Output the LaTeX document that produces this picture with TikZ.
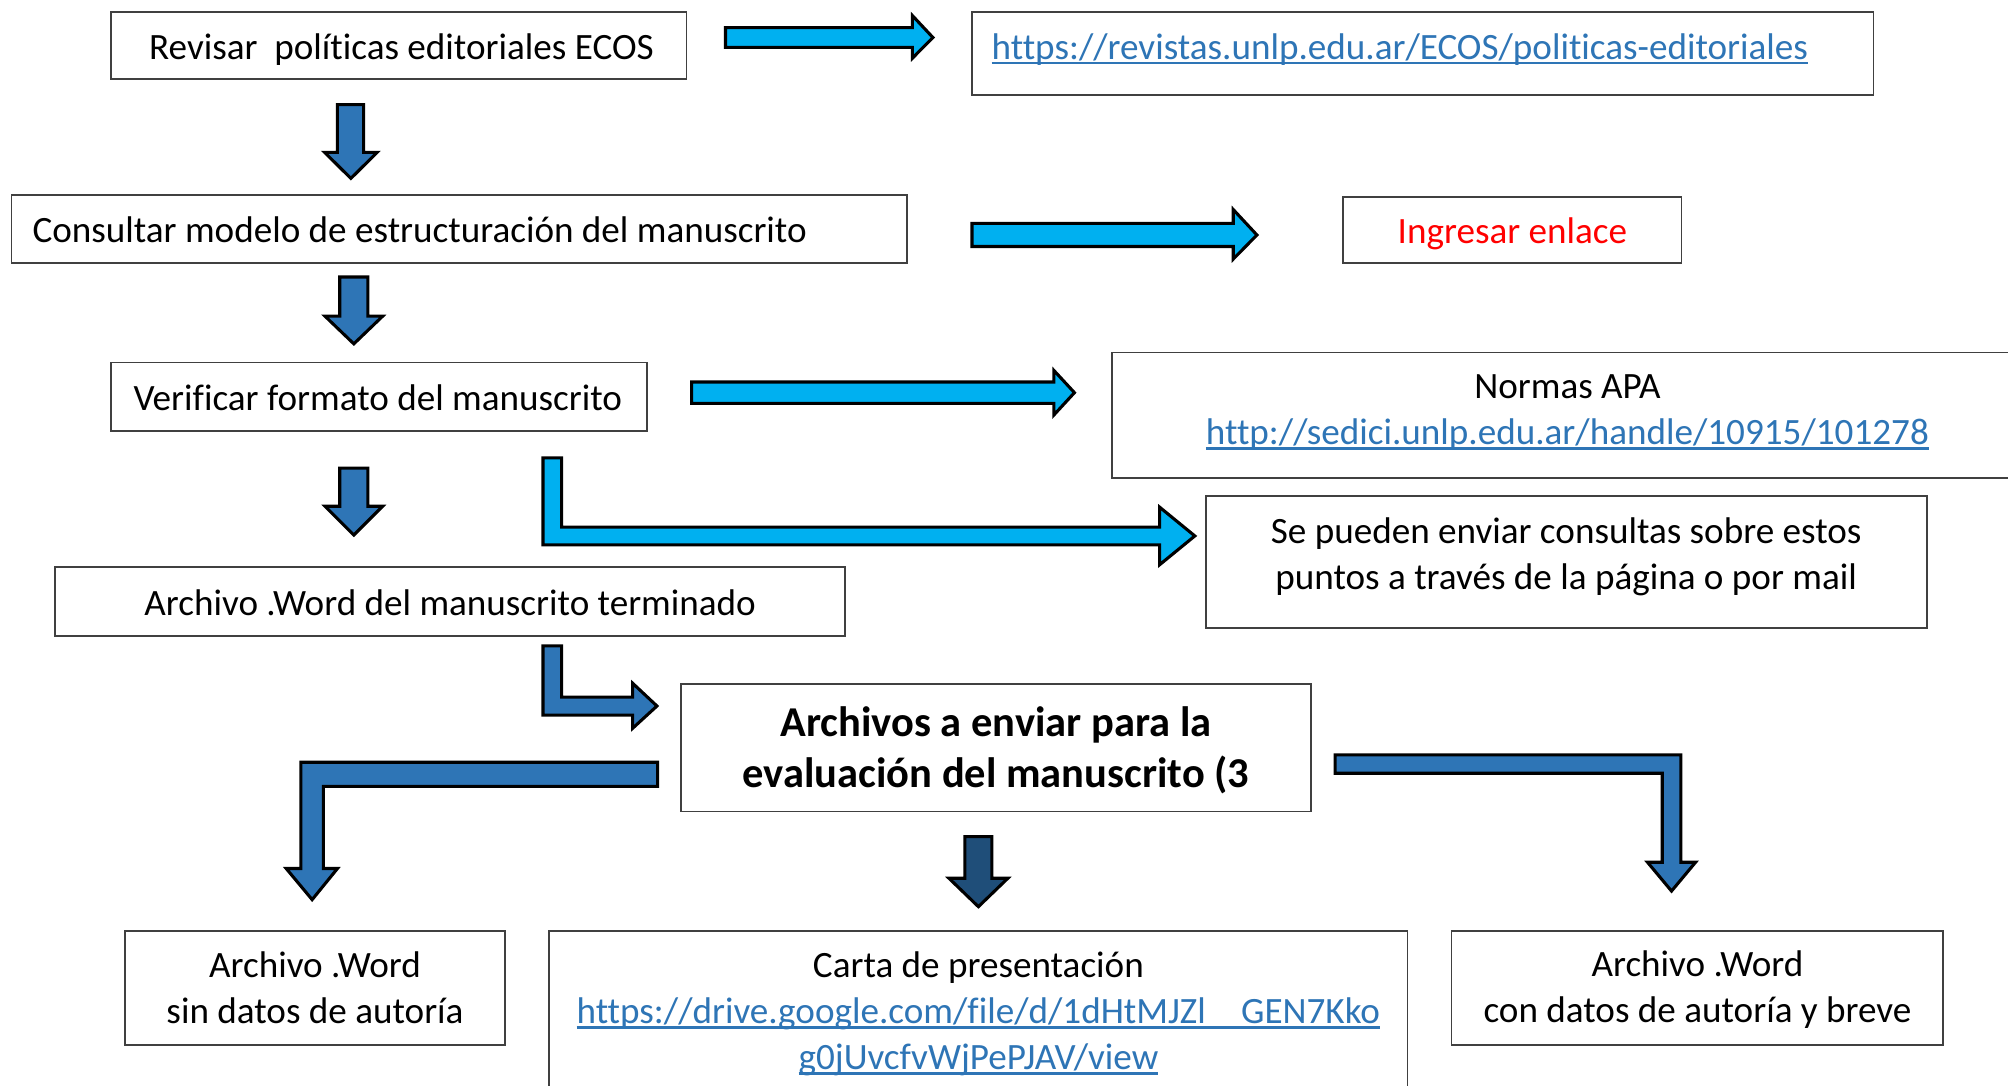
\documentclass[tikz,border=0pt]{standalone}
\usepackage{fontspec}
\setmainfont{Carlito}[Ligatures=NoCommon]
\usetikzlibrary{fit}
\definecolor{lightarrow}{HTML}{00B0F0}
\definecolor{darkarrow}{HTML}{2E75B6}
\definecolor{navyarrow}{HTML}{1F4E79}
\definecolor{linkblue}{HTML}{2E75B6}
\definecolor{boxline}{HTML}{404040}
\newlength\ulw
\newcommand\lnk[1]{\settowidth{\ulw}{#1}\rlap{\rule[-0.14em]{\ulw}{0.065em}}#1}
\begin{document}
\begin{tikzpicture}[x=0.5pt,y=-0.5pt,
  boxst/.style={draw=boxline,line width=0.7pt,inner sep=0pt,fill=white},
  txt/.style={inner sep=0pt,align=center,font=\fontsize{14.5pt}{18pt}\selectfont},
  boldtxt/.style={inner sep=0pt,align=center,font=\fontsize{16.6pt}{19.8pt}\selectfont\bfseries},
  linktxt/.style={txt,text=linkblue},
  lightblk/.style={fill=lightarrow,draw=black,line width=1.2pt,line join=miter},
  darkblk/.style={fill=darkarrow,draw=black,line width=1.2pt,line join=miter},
  navyblk/.style={fill=navyarrow,draw=black,line width=1.2pt,line join=miter}]
\useasboundingbox (0,0) rectangle (1568,848);
\clip (0,0) rectangle (1568,848);
\fill[white] (0,0) rectangle (1568,848);

% boxes
\node[boxst,fit={(86.5,9.5) (536,61.4)}] (b1) {};
\node[boxst,fit={(759,9.5) (1463,74.4)}] (u1) {};
\node[boxst,fit={(9,152) (708.5,205.5)}] (b2) {};
\node[boxst,fit={(1048.5,153.6) (1313,205.5)}] (ing) {};
\node[boxst,fit={(86.5,283) (505,336.4)}] (b3) {};
\node[boxst,fit={(868.5,275.3) (1580,373.2)}] (apa) {};
\node[boxst,fit={(941.5,387.5) (1505,490.3)}] (se) {};
\node[boxst,fit={(43,443) (660,496.5)}] (w) {};
\node[boxst,fit={(531.5,533.8) (1024,633.6)}] (arch) {};
\node[boxst,fit={(97.5,726.9) (394.5,816.1)}] (s1) {};
\node[boxst,fit={(429,726.9) (1099,870)}] (carta) {};
\node[boxst,fit={(1133.5,726.9) (1517.5,816.1)}] (c1) {};

% texts
\node[txt] (b1t) at (313.5,38.5) {Revisar\ \ políticas editoriales ECOS};
\node[linktxt,anchor=west] (u1t) at (774,38.5) {\lnk{https://revistas.unlp.edu.ar/ECOS/politicas-editoriales}};
\node[txt,anchor=west] (b2t) at (25,179) {Consultar modelo de estructuración del manuscrito};
\node[txt,text=red] (ingt) at (1181,182.5) {Ingresar enlace};
\node[txt] (b3t) at (295,310.5) {Verificar formato del manuscrito};
\node[txt] (apat) at (1224,322) {Normas APA\\\textcolor{linkblue}{\lnk{http://sedici.unlp.edu.ar/handle/10915/101278}}};
\node[txt] (set) at (1223,434.5) {Se pueden enviar consultas sobre estos\\puntos a través de la página o por mail};
\node[txt] (wt) at (351.5,471) {Archivo .Word del manuscrito terminado};
\node[boldtxt] (archt) at (777.75,586) {Archivos a enviar para la\\evaluación del manuscrito (3};
\node[txt] (s1t) at (246,771.5) {Archivo .Word\\sin datos de autoría};
\node[txt] (cartat) at (764,791.5) {Carta de presentación\\\textcolor{linkblue}{\lnk{https://drive.google.com/file/d/1dHtMJZl\hspace{0.95em}GEN7Kko}}\\\textcolor{linkblue}{\lnk{g0jUvcfvWjPePJAV/view}}};
\node[txt] (c1t) at (1325.5,773) {Archivo .Word\\con datos de autoría y breve};

% straight down arrows
\draw[darkblk] (263.5,81.7)--(284,81.7)--(284,119)--(294.5,119)--(274,139.3)--(253.5,119)--(263.5,119)--cycle;
\draw[darkblk] (265.3,216.3)--(287.3,216.3)--(287.3,246.9)--(298.8,246.9)--(276.3,268.5)--(253.8,246.9)--(265.3,246.9)--cycle;
\draw[darkblk] (265.3,365.6)--(287.3,365.6)--(287.3,395.3)--(298.8,395.3)--(276.3,417.8)--(253.8,395.3)--(265.3,395.3)--cycle;
\draw[navyblk] (753.5,653.3)--(774.5,653.3)--(774.5,685.8)--(787,685.8)--(764,708)--(741,685.8)--(753.5,685.8)--cycle;

% straight right arrows
\draw[lightblk] (566.5,21.6)--(712.5,21.6)--(712.5,12.2)--(728.5,29.3)--(712.5,45.4)--(712.5,37)--(566.5,37)--cycle;
\draw[lightblk] (759,174.4)--(963,174.4)--(963,163.6)--(981.5,183.5)--(963,202.3)--(963,192.5)--(759,192.5)--cycle;
\draw[lightblk] (540,298.3)--(823,298.3)--(823,289.3)--(839,306.6)--(823,324)--(823,315)--(540,315)--cycle;

% bent arrows
\draw[lightblk] (424,357.5)--(438.5,357.5)--(438.5,411.6)--(905.5,411.6)--(905.5,396)--(933,418.5)--(905.5,441)--(905.5,425.4)--(424,425.4)--cycle;
\draw[darkblk] (424,504.3)--(438.5,504.3)--(438.5,544.3)--(494,544.3)--(494,533.5)--(513,551.3)--(494,568.7)--(494,558.4)--(424,558.4)--cycle;
\draw[darkblk] (513.5,595.2)--(235,595.2)--(235,678.2)--(223.5,678.2)--(243.75,702.5)--(263.5,678.2)--(252.5,678.2)--(252.5,614.1)--(513.5,614.1)--cycle;
\draw[darkblk] (1042.5,589.5)--(1312.5,589.5)--(1312.5,673.3)--(1324,673.3)--(1305.25,695.8)--(1286.5,673.3)--(1298,673.3)--(1298,603.8)--(1042.5,603.8)--cycle;
\end{tikzpicture}
\end{document}
